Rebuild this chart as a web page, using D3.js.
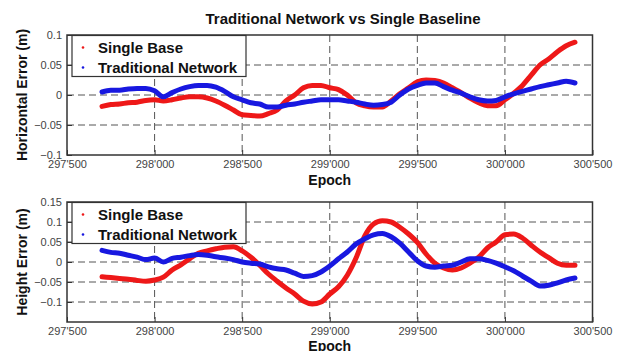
<!DOCTYPE html>
<html>
<head>
<meta charset="utf-8">
<script src="https://cdn.jsdelivr.net/npm/d3@7"></script>
<style>
  body { margin: 0; background: #fff; }
  svg { display: block; font-family: "Liberation Sans", Arial, sans-serif; }
</style>
</head>
<body>
<svg id="chart" width="622" height="351"></svg>
<script>
const epochs = [297700, 297750, 297800, 297850, 297900, 297950, 298000, 298050, 298100, 298150,
  298200, 298250, 298300, 298350, 298400, 298450, 298500, 298550, 298600, 298650,
  298700, 298750, 298800, 298850, 298900, 298950, 299000, 299050, 299100, 299150,
  299200, 299250, 299300, 299350, 299400, 299450, 299500, 299550, 299600, 299650,
  299700, 299750, 299800, 299850, 299900, 299950, 300000, 300050, 300100, 300150,
  300200, 300250, 300300, 300350, 300400];

// horizontal error (m)
const horizSingle = [-0.019, -0.016, -0.015, -0.013, -0.012, -0.009, -0.008, -0.010, -0.008, -0.005,
  -0.003, -0.003, -0.005, -0.010, -0.017, -0.025, -0.033, -0.034, -0.035, -0.031,
  -0.025, -0.010, 0.000, 0.012, 0.016, 0.016, 0.012, 0.009, 0.000, -0.013,
  -0.018, -0.020, -0.020, -0.010, 0.002, 0.012, 0.022, 0.025, 0.024, 0.020,
  0.012, 0.004, -0.005, -0.013, -0.018, -0.018, -0.008, 0.003, 0.016, 0.033,
  0.050, 0.060, 0.072, 0.082, 0.088];
const horizNetwork = [0.005, 0.008, 0.008, 0.010, 0.011, 0.011, 0.007, -0.003, 0.004, 0.010,
  0.014, 0.016, 0.016, 0.013, 0.006, -0.003, -0.008, -0.013, -0.015, -0.020,
  -0.020, -0.017, -0.015, -0.012, -0.010, -0.008, -0.008, -0.008, -0.010, -0.012,
  -0.015, -0.017, -0.016, -0.012, 0.000, 0.010, 0.016, 0.020, 0.020, 0.014,
  0.008, 0.003, -0.003, -0.008, -0.010, -0.009, -0.003, 0.002, 0.006, 0.010,
  0.014, 0.017, 0.020, 0.023, 0.020];

// height error (m)
const heightSingle = [-0.037, -0.039, -0.041, -0.043, -0.046, -0.048, -0.045, -0.038, -0.020, -0.007,
  0.008, 0.022, 0.028, 0.033, 0.037, 0.038, 0.028, 0.012, -0.008, -0.030,
  -0.048, -0.065, -0.080, -0.098, -0.105, -0.100, -0.080, -0.062, -0.033, 0.010,
  0.065, 0.095, 0.103, 0.100, 0.087, 0.070, 0.049, 0.020, -0.003, -0.015,
  -0.020, -0.015, -0.003, 0.012, 0.035, 0.050, 0.068, 0.070, 0.060, 0.042,
  0.025, 0.011, -0.003, -0.008, -0.008];
const heightNetwork = [0.029, 0.024, 0.022, 0.017, 0.012, 0.006, 0.010, 0.000, 0.009, 0.012,
  0.016, 0.019, 0.017, 0.013, 0.010, 0.006, 0.000, -0.003, -0.005, -0.012,
  -0.017, -0.020, -0.028, -0.036, -0.034, -0.025, -0.010, 0.008, 0.025, 0.045,
  0.058, 0.068, 0.071, 0.063, 0.047, 0.025, 0.003, -0.010, -0.013, -0.010,
  -0.008, 0.000, 0.008, 0.008, 0.004, -0.003, -0.012, -0.022, -0.035, -0.048,
  -0.060, -0.058, -0.052, -0.045, -0.040];

const xTicks = [297500, 298000, 298500, 299000, 299500, 300000, 300500];
const horizTicks = [-0.1, -0.05, 0, 0.05, 0.1];
const heightTicks = [-0.1, -0.05, 0, 0.05, 0.1, 0.15];
const seriesNames = ["Single Base", "Traditional Network"];
const colors = ["#ee1818", "#1818e0"];

const svg = d3.select("#chart");
const left = 67, right = 592.5;

svg.append("text")
  .attr("x", 343).attr("y", 24)
  .attr("text-anchor", "middle")
  .attr("font-size", 15).attr("font-weight", "bold").attr("fill", "#111")
  .text("Traditional Network vs Single Baseline");

function fmtX(d) { return d3.format(",")(d).replace(",", "'"); }

function drawPanel(top, bottom, yDomain, yTicks, yLabel, single, network, xLabelY) {
  const x = d3.scaleLinear().domain([297500, 300500]).range([left, right]);
  const y = d3.scaleLinear().domain(yDomain).range([bottom, top]);
  const g = svg.append("g");

  // grid
  const dash = "7,4";
  g.selectAll(".gx").data(xTicks.slice(1, -1)).enter().append("line")
    .attr("x1", d => x(d)).attr("x2", d => x(d))
    .attr("y1", top).attr("y2", bottom)
    .attr("stroke", "#555").attr("stroke-dasharray", dash);
  g.selectAll(".gy").data(yTicks.filter(d => d > yDomain[0] && d < yDomain[1])).enter().append("line")
    .attr("x1", left).attr("x2", right)
    .attr("y1", d => y(d)).attr("y2", d => y(d))
    .attr("stroke", "#555").attr("stroke-dasharray", dash);

  // data
  const line = d3.line().x((d, i) => x(epochs[i])).y(d => y(d)).curve(d3.curveMonotoneX);
  [single, network].forEach((vals, k) => {
    g.append("path").datum(vals)
      .attr("d", line)
      .attr("fill", "none")
      .attr("stroke", colors[k])
      .attr("stroke-width", 5)
      .attr("stroke-linejoin", "round")
      .attr("stroke-linecap", "round");
  });

  // axes (ticks inward)
  g.append("g").attr("transform", `translate(0,${bottom})`)
    .call(d3.axisBottom(x).tickValues(xTicks).tickSize(-5).tickPadding(5).tickFormat(fmtX))
    .call(a => a.select(".domain").remove());
  g.append("g").attr("transform", `translate(${left},0)`)
    .call(d3.axisLeft(y).tickValues(yTicks).tickSize(-5).tickPadding(5).tickFormat(d => d3.format("")(+d.toFixed(2))))
    .call(a => a.select(".domain").remove());
  g.selectAll(".tick text").attr("font-size", 11).attr("fill", "#444")
    .attr("font-family", "'Liberation Sans', Arial, sans-serif");
  g.selectAll(".tick line").attr("stroke", "#333");

  g.append("rect")
    .attr("x", left).attr("y", top)
    .attr("width", right - left).attr("height", bottom - top)
    .attr("fill", "none").attr("stroke", "#333").attr("stroke-width", 1.5);

  // legend
  const lg = g.append("g").attr("transform", `translate(72,${top + 0.5})`);
  lg.append("rect").attr("width", 174).attr("height", 41)
    .attr("fill", "#fff").attr("stroke", "#333").attr("stroke-width", 1.2);
  seriesNames.forEach((name, k) => {
    lg.append("circle").attr("cx", 11).attr("cy", 12 + k * 20).attr("r", 1.3).attr("fill", colors[k]);
    lg.append("text").attr("x", 26).attr("y", 17.5 + k * 20)
      .attr("font-size", 15).attr("font-weight", "bold").attr("fill", "#111")
      .text(name);
  });

  // axis labels
  svg.append("text")
    .attr("x", (left + right) / 2).attr("y", xLabelY)
    .attr("text-anchor", "middle")
    .attr("font-size", 14).attr("font-weight", "bold").attr("fill", "#111")
    .text("Epoch");
  svg.append("text")
    .attr("transform", `translate(27,${(top + bottom) / 2}) rotate(-90)`)
    .attr("text-anchor", "middle")
    .attr("font-size", 14).attr("font-weight", "bold").attr("fill", "#111")
    .text(yLabel);
}

drawPanel(35, 155, [-0.1, 0.1], horizTicks, "Horizontal Error (m)", horizSingle, horizNetwork, 184.5);
drawPanel(202, 322, [-0.15, 0.15], heightTicks, "Height Error (m)", heightSingle, heightNetwork, 351);
</script>
</body>
</html>
